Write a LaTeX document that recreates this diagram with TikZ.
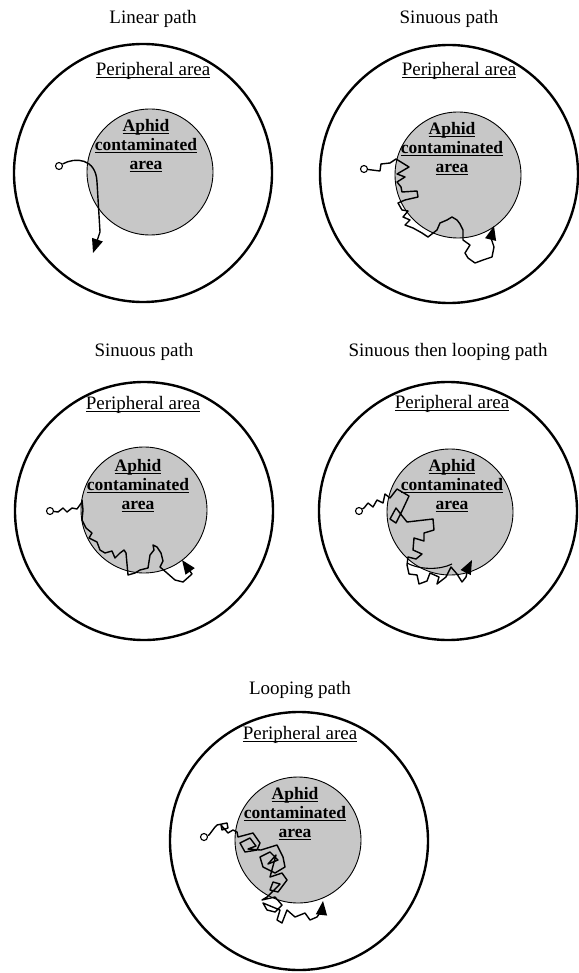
\documentclass[tikz,border=0pt]{standalone}
\usepackage{fontspec}
\setmainfont{Liberation Serif}
\usetikzlibrary{arrows.meta}
\tikzset{
  panel title/.style={font=\fontsize{19}{22}\selectfont, inner sep=0pt},
  zone label/.style={font=\fontsize{19}{22}\selectfont, inner sep=0pt},
  core label/.style={font=\bfseries\fontsize{17.5}{19}\selectfont, align=center, inner sep=0pt},
  arena/.style={circle, draw, line width=2.4pt, minimum size=258pt, inner sep=0pt},
  core/.style={circle, draw, line width=0.9pt, fill=black!22, minimum size=126pt, inner sep=0pt},
  origin/.style={circle, draw, line width=1.1pt, fill=white, minimum size=7pt, inner sep=0pt},
  track/.style={line width=1.4pt, line join=round, -{Triangle[length=14pt,width=11pt]}},
}
% underline set just under the baseline, crossing the descenders
\newcommand{\ulword}[1]{\leavevmode\setbox0\hbox{#1}\rlap{\rule[-2.4pt]{\wd0}{1.3pt}}\box0}
\newcommand{\corelabel}{\ulword{Aphid}\\\ulword{contaminated}\\\ulword{area}}
\begin{document}
\begin{tikzpicture}[x=1pt,y=-1pt]
\useasboundingbox (0,0) rectangle (578,973);

% ---------- Linear path ----------
\node[panel title] (t1) at (153,19) {Linear path};
\node[arena] (o1) at (143,173) {};
\node[core] (c1) at (150,172) {};
\node[zone label] (p1) at (153,71) {\ulword{Peripheral area}};
\node[core label] (a1) at (146,146) {\corelabel};
\node[origin] (s1) at (59,166) {};
\coordinate (e1) at (93,253);
\draw[track] (s1) .. controls (75,157) and (96,158) .. (97,182) -- (100,232) -- (e1);

% ---------- Sinuous path ----------
\node[panel title] (t2) at (449,19) {Sinuous path};
\node[arena] (o2) at (449,174) {};
\node[core] (c2) at (458,175) {};
\node[zone label] (p2) at (459,71) {\ulword{Peripheral area}};
\node[core label] (a2) at (452,149) {\corelabel};
\node[origin] (s2) at (364,169) {};
\coordinate (e2) at (494,226);
\draw[track] (s2) -- (380,171) -- (381,164) -- (390,163) -- (396,159)
  -- (409,167) -- (397,174) -- (405,177) -- (397,182) -- (401,187)
  -- (402,192) -- (417,191) -- (418,197) -- (405,200) -- (398,203)
  -- (402,210) -- (408,211) -- (403,217) -- (410,220) -- (405,225)
  -- (413,228) -- (422,233) -- (428,237) -- (437,230) -- (440,223)
  -- (447,220) -- (452,217) -- (457,220) -- (460,224) -- (463,230)
  -- (463,240) -- (470,245) -- (465,253) -- (468,258) -- (475,263)
  -- (483,260) -- (492,257) -- (494,247) -- (491,238) -- (e2);

% ---------- Sinuous path (second) ----------
\node[panel title] (t3) at (144,352) {Sinuous path};
\node[arena] (o3) at (144,511) {};
\node[core] (c3) at (144,510) {};
\node[zone label] (p3) at (143,405) {\ulword{Peripheral area}};
\node[core label] (a3) at (138,486) {\corelabel};
\node[origin] (s3) at (50,511) {};
\coordinate (e3) at (182,560);
\draw[track] (s3) -- (58,512) -- (63,508) -- (67,512) -- (72,508)
  -- (77,509) -- (82,502) -- (82,500) -- (83,510) -- (82,520)
  -- (86,528) -- (92,533) -- (89,538) -- (97,542) -- (100,550)
  -- (105,553) -- (112,551) -- (115,558) -- (120,553) -- (124,550)
  -- (126,553) -- (128,575) -- (135,573) -- (140,570) -- (148,568)
  -- (150,555) -- (154,550) -- (153,545) -- (157,547) -- (161,553)
  -- (163,561) -- (160,567) -- (167,573) -- (175,580) -- (183,582)
  -- (192,574) -- (187,567) -- (e3);

% ---------- Sinuous then looping path ----------
\node[panel title] (t4) at (448,352) {Sinuous then looping path};
\node[arena] (o4) at (448,511) {};
\node[core] (c4) at (450,512) {};
\node[zone label] (p4) at (452,404) {\ulword{Peripheral area}};
\node[core label] (a4) at (452,486) {\corelabel};
\node[origin] (s4) at (359,511) {};
\coordinate (e4) at (472,560);
\draw[track] (s4) -- (364,508) -- (368,503) -- (373,507) -- (377,500)
  -- (383,503) -- (385,494) -- (390,498) -- (397,489) -- (409,496)
  -- (402,511) -- (396,523) -- (390,519) -- (396,508) -- (403,517)
  -- (407,522) -- (433,519) -- (434,530) -- (424,533) -- (424,541)
  -- (414,538) -- (413,550) -- (422,554) -- (416,559) -- (408,557)
  -- (407,565) -- (409,574) -- (417,575) -- (419,584) -- (427,581)
  -- (430,573) -- (439,577) -- (437,584) -- (446,577) -- (451,567)
  -- (457,574) -- (462,582) -- (466,577) -- (468,568) -- (e4);
\draw[line width=1.1pt] (407,563) .. controls (420,570) and (440,570) .. (452,564);

% ---------- Looping path ----------
\node[panel title] (t5) at (300,690) {Looping path};
\node[arena] (o5) at (299,841) {};
\node[core] (c5) at (298,840) {};
\node[zone label] (p5) at (300,735) {\ulword{Peripheral area}};
\node[core label] (a5) at (295,814) {\corelabel};
\node[origin] (s5) at (204,837) {};
\coordinate (e5) at (323,901);
\draw[track] (s5) -- (209,835) -- (215,827) -- (217,825) -- (227,823)
  -- (228,828) -- (222,830) -- (221,825) -- (228,833) -- (233,830)
  -- (237,832) -- (238,837) -- (253,833) -- (260,843) -- (257,850)
  -- (245,852) -- (240,843) -- (250,838) -- (256,846) -- (248,849)
  -- (261,850) -- (277,845) -- (283,857) -- (285,867) -- (275,873)
  -- (263,867) -- (260,857) -- (270,852) -- (278,860) -- (268,864)
  -- (276,855) -- (270,877) -- (282,873) -- (287,880) -- (278,892)
  -- (270,890) -- (273,882) -- (280,884) -- (267,897) -- (262,900)
  -- (275,897) -- (282,905) -- (275,912) -- (267,910) -- (263,903)
  -- (280,910) -- (277,920) -- (282,923) -- (287,910) -- (295,917)
  -- (305,913) -- (310,920) -- (317,917) -- (322,910) -- (e5);
\end{tikzpicture}
\end{document}
